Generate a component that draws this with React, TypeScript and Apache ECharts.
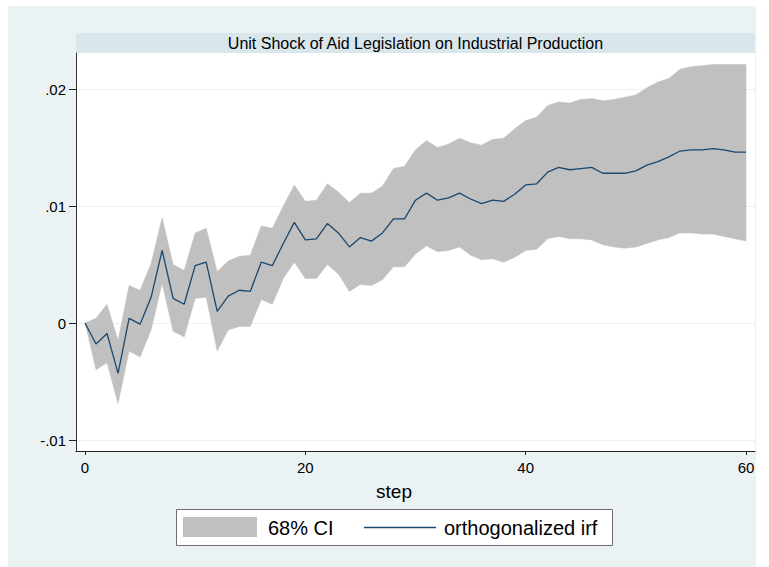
import React, { useEffect, useRef } from "react";
import * as echarts from "echarts";

const steps = [
  0, 1, 2, 3, 4, 5, 6, 7, 8, 9, 10, 11, 12, 13, 14, 15, 16, 17, 18, 19, 20,
  21, 22, 23, 24, 25, 26, 27, 28, 29, 30, 31, 32, 33, 34, 35, 36, 37, 38, 39, 40,
  41, 42, 43, 44, 45, 46, 47, 48, 49, 50, 51, 52, 53, 54, 55, 56, 57, 58, 59, 60,
];

const irf = [
  0, -0.0018, -0.0009, -0.0043, 0.0004, -0.0001, 0.0022, 0.0062, 0.0021, 0.0016, 0.0049,
  0.0052, 0.001, 0.0023, 0.0028, 0.0027, 0.0052, 0.0049, 0.0068, 0.0086, 0.0071,
  0.0072, 0.0085, 0.0077, 0.0065, 0.0073, 0.007, 0.0077, 0.0089, 0.0089, 0.0105,
  0.0111, 0.0105, 0.0107, 0.0111, 0.0106, 0.0102, 0.0105, 0.0104, 0.011, 0.0118,
  0.0119, 0.0129, 0.0133, 0.0131, 0.0132, 0.0133, 0.0128, 0.0128, 0.0128, 0.013,
  0.0135, 0.0138, 0.0142, 0.0147, 0.0148, 0.0148, 0.0149, 0.0148, 0.0146, 0.0146,
];

const ciUpper = [
  0, 0.0004, 0.0016, -0.0015, 0.0032, 0.0028, 0.0051, 0.009, 0.005, 0.0045, 0.0077,
  0.0081, 0.0044, 0.0053, 0.0057, 0.0058, 0.0083, 0.0081, 0.01, 0.0118, 0.0104,
  0.0105, 0.0119, 0.0112, 0.0103, 0.0111, 0.0111, 0.0117, 0.0132, 0.0134, 0.0148,
  0.0156, 0.015, 0.0153, 0.0158, 0.0154, 0.0152, 0.0157, 0.0158, 0.0166, 0.0173,
  0.0176, 0.0186, 0.0189, 0.0188, 0.0191, 0.0192, 0.019, 0.0191, 0.0193, 0.0195,
  0.0201, 0.0206, 0.0209, 0.0217, 0.0219, 0.022, 0.0221, 0.0221, 0.0221, 0.0221,
];

const ciLower = [
  0, -0.004, -0.0034, -0.0069, -0.0024, -0.0029, -0.0006, 0.0034, -0.0007, -0.0012, 0.0021,
  0.0022, -0.0024, -0.0006, -0.0003, -0.0003, 0.002, 0.0016, 0.0038, 0.0052, 0.0038,
  0.0038, 0.005, 0.0042, 0.0027, 0.0033, 0.0032, 0.0037, 0.0048, 0.0048, 0.0059,
  0.0066, 0.0061, 0.0062, 0.0065, 0.0058, 0.0054, 0.0055, 0.0052, 0.0056, 0.0062,
  0.0063, 0.0072, 0.0074, 0.0072, 0.0072, 0.0071, 0.0067, 0.0065, 0.0064, 0.0065,
  0.0068, 0.0071, 0.0073, 0.0077, 0.0077, 0.0076, 0.0076, 0.0074, 0.0072, 0.007,
];

const xTicks = [0, 20, 40, 60];
const yTicks = [-0.01, 0, 0.01, 0.02];

const titleText = "Unit Shock of Aid Legislation on Industrial Production";
const xAxisName = "step";
const ciLabel = "68% CI";
const irfLabel = "orthogonalized irf";

const FONT = '"Liberation Sans", Arial, Helvetica, sans-serif';

function fmtY(v: number): string {
  if (Math.abs(v) < 1e-12) return "0";
  const s = Math.abs(v).toFixed(2).replace(/^0/, "");
  return (v < 0 ? "-" : "") + s;
}

export default function App() {
  const ref = useRef<HTMLDivElement>(null);

  useEffect(() => {
    if (!ref.current) return;
    const chart = echarts.init(ref.current, null, { renderer: "svg" });

    const bandData = steps.map((s, i) => [s, ciLower[i], ciUpper[i]]);
    const irfData = steps.map((s, i) => [s, irf[i]]);

    const option: any = {
      animation: false,
      backgroundColor: "transparent",
      grid: {
        left: 76,
        top: 53,
        width: 679,
        height: 398,
        show: true,
        backgroundColor: "#ffffff",
        borderWidth: 0,
      },
      xAxis: {
        type: "value",
        min: -0.817,
        max: 60.817,
        axisLine: { show: true, onZero: false, lineStyle: { color: "#222", width: 1 } },
        axisTick: { show: true, customValues: xTicks, length: 4, lineStyle: { color: "#222" } },
        axisLabel: {
          customValues: xTicks,
          margin: 9,
          fontSize: 15,
          color: "#000",
          fontFamily: FONT,
        },
        splitLine: { show: false },
      },
      yAxis: {
        type: "value",
        min: -0.01094,
        max: 0.02308,
        axisLine: { show: true, onZero: false, lineStyle: { color: "#333", width: 1 } },
        axisTick: { show: true, customValues: yTicks, length: 7, lineStyle: { color: "#222" } },
        axisLabel: {
          customValues: yTicks,
          formatter: fmtY,
          margin: 10,
          fontSize: 15,
          color: "#000",
          fontFamily: FONT,
        },
        splitLine: { show: true, lineStyle: { color: "#eaf2f3", width: 1 } },
      },
      series: [
        {
          type: "custom",
          name: ciLabel,
          data: bandData,
          encode: { x: 0, y: [1, 2] },
          silent: true,
          z: 2,
          renderItem: (params: any, api: any) => {
            if (params.dataIndex !== 0) return null;
            const pts: number[][] = [];
            for (let i = 0; i < steps.length; i++) {
              pts.push(api.coord([steps[i], ciUpper[i]]));
            }
            for (let i = steps.length - 1; i >= 0; i--) {
              pts.push(api.coord([steps[i], ciLower[i]]));
            }
            return {
              type: "polygon",
              shape: { points: pts },
              style: { fill: "#c0c0c0", stroke: "#c0c0c0", lineWidth: 0.5 },
            };
          },
        },
        {
          type: "line",
          name: irfLabel,
          data: irfData,
          symbol: "none",
          showSymbol: false,
          z: 5,
          lineStyle: { color: "#1a476f", width: 1.3 },
        },
      ],
      graphic: [
        {
          type: "rect",
          shape: { x: 76, y: 33, width: 679, height: 20 },
          style: { fill: "#d9e6eb" },
          silent: true,
        },
        {
          type: "text",
          x: 415.5,
          y: 43,
          style: {
            text: titleText,
            fill: "#000",
            font: `16px ${FONT}`,
            textAlign: "center",
            textVerticalAlign: "middle",
          },
          silent: true,
        },
        {
          type: "text",
          x: 394,
          y: 491,
          style: {
            text: xAxisName,
            fill: "#000",
            font: `19px ${FONT}`,
            textAlign: "center",
            textVerticalAlign: "middle",
          },
          silent: true,
        },
        {
          type: "rect",
          shape: { x: 176.5, y: 509.5, width: 436, height: 36 },
          style: { fill: "#ffffff", stroke: "#6e6e6e", lineWidth: 1 },
          silent: true,
        },
        {
          type: "rect",
          shape: { x: 183, y: 517, width: 74, height: 20 },
          style: { fill: "#c0c0c0" },
          silent: true,
        },
        {
          type: "text",
          x: 268,
          y: 527.5,
          style: {
            text: ciLabel,
            fill: "#000",
            font: `20px ${FONT}`,
            textAlign: "left",
            textVerticalAlign: "middle",
          },
          silent: true,
        },
        {
          type: "line",
          shape: { x1: 364, y1: 527.5, x2: 436, y2: 527.5 },
          style: { stroke: "#1a476f", lineWidth: 1.5 },
          silent: true,
        },
        {
          type: "text",
          x: 444,
          y: 527.5,
          style: {
            text: irfLabel,
            fill: "#000",
            font: `20px ${FONT}`,
            textAlign: "left",
            textVerticalAlign: "middle",
          },
          silent: true,
        },
      ],
    };

    chart.setOption(option);
    return () => {
      chart.dispose();
    };
  }, []);

  return (
    <div style={{ position: "absolute", left: 0, top: 0, width: 769, height: 567, background: "#ffffff" }}>
      <div
        style={{
          position: "absolute",
          left: 8,
          top: 6,
          width: 748,
          height: 561,
          background: "#eaf2f3",
        }}
      />
      <div ref={ref} style={{ position: "absolute", left: 0, top: 0, width: 769, height: 567 }} />
    </div>
  );
}
